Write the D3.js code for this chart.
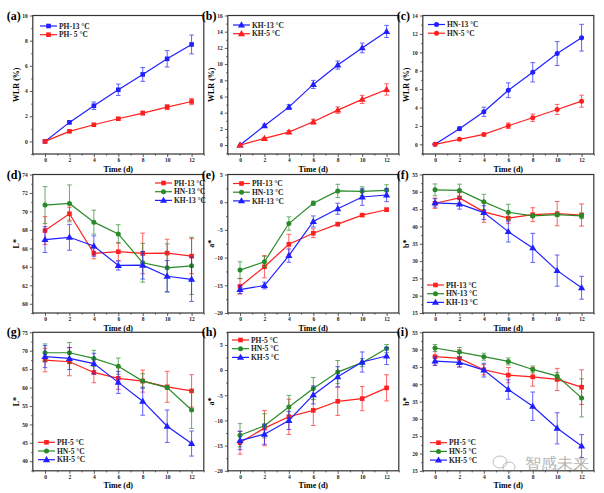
<!DOCTYPE html>
<html><head><meta charset="utf-8">
<script src="https://cdn.jsdelivr.net/npm/d3@7"></script>
<style>
body{margin:0;background:#fff;}
text{font-family:"Liberation Serif","Times New Roman",serif;}
</style></head>
<body><svg id="c" width="604" height="493"></svg>
<script>
// ---------- DATA ----------
const days = [0, 2, 4, 6, 8, 10, 12];
const xTicks = [0, 2, 4, 6, 8, 10, 12];

// (a) WLR PH
const wlrPH13 = [0, 1.51, 2.83, 4.1, 5.32, 6.56, 7.7];
const wlrPH13Err = [0, 0.1, 0.3, 0.45, 0.55, 0.65, 0.75];
const wlrPH5 = [0, 0.8, 1.32, 1.8, 2.25, 2.72, 3.17];
const wlrPH5Err = [0, 0.05, 0.1, 0.1, 0.15, 0.2, 0.25];
// (b) WLR KH
const wlrKH13 = [0, 2.39, 4.69, 7.49, 9.88, 12.0, 14.03];
const wlrKH13Err = [0, 0.2, 0.3, 0.5, 0.5, 0.6, 0.75];
const wlrKH5 = [0, 0.82, 1.6, 2.88, 4.32, 5.64, 6.87];
const wlrKH5Err = [0, 0.1, 0.2, 0.3, 0.4, 0.5, 0.7];
// (c) WLR HN
const wlrHN13 = [0, 1.7, 3.54, 5.88, 7.83, 9.86, 11.59];
const wlrHN13Err = [0, 0.2, 0.5, 0.8, 1.05, 1.3, 1.45];
const wlrHN5 = [0, 0.54, 1.08, 2.02, 2.89, 3.79, 4.69];
const wlrHN5Err = [0, 0.1, 0.15, 0.3, 0.4, 0.55, 0.65];
// (d) L* 13 °C
const L13PH = [67.93, 69.75, 65.47, 65.64, 65.45, 65.49, 65.16];
const L13PHErr = [1.5, 0.7, 0.6, 1.0, 2.2, 1.5, 1.9];
const L13HN = [70.69, 70.87, 68.84, 67.56, 64.44, 63.89, 64.11];
const L13HNErr = [2.0, 2.0, 1.3, 1.0, 2.1, 2.6, 3.1];
const L13KH = [66.95, 67.2, 66.25, 64.15, 64.18, 62.98, 62.65];
const L13KHErr = [1.4, 1.4, 1.1, 0.5, 1.5, 1.7, 2.4];
// (e) a* 13 °C
const a13PH = [-15.2, -11.65, -7.6, -5.6, -3.96, -2.33, -1.36];
const a13PHErr = [1.4, 2.0, 1.8, 0.8, 0.3, 0.2, 0.3];
const a13HN = [-12.26, -10.75, -3.85, -0.2, 2.03, 1.97, 2.15];
const a13HNErr = [1.5, 1.0, 1.2, 0.4, 1.2, 0.8, 1.0];
const a13KH = [-15.77, -15.04, -9.65, -3.48, -1.18, 0.94, 1.3];
const a13KHErr = [0.7, 0.6, 1.2, 1.0, 1.0, 1.5, 1.2];
// (f) b* 13 °C
const b13PH = [46.7, 48.25, 44.2, 42.4, 43.4, 43.7, 43.3];
const b13PHErr = [1.5, 1.5, 3.0, 1.5, 2.0, 3.5, 3.2];
const b13HN = [50.57, 50.4, 47.1, 44.1, 43.05, 43.4, 43.05];
const b13HNErr = [1.7, 1.8, 2.2, 2.3, 0.5, 0.5, 0.8];
const b13KH = [46.8, 46.5, 44.0, 38.5, 33.8, 27.24, 22.3];
const b13KHErr = [1.2, 1.5, 2.0, 3.0, 4.2, 4.5, 3.3];
// (g) L* 5 °C
const L5PH = [67.47, 67.0, 64.1, 62.5, 61.76, 60.2, 59.1];
const L5PHErr = [3.2, 3.8, 2.8, 3.0, 3.0, 4.2, 4.4];
const L5HN = [69.45, 69.45, 67.9, 65.8, 61.76, 60.0, 53.9];
const L5HNErr = [2.4, 2.8, 2.2, 2.2, 2.0, 0.5, 5.0];
const L5KH = [68.4, 67.9, 66.5, 61.4, 56.3, 49.5, 44.8];
const L5KHErr = [3.0, 3.0, 2.8, 3.0, 3.8, 4.4, 3.4];
// (h) a* 5 °C
const a5PH = [-14.4, -11.53, -9.27, -8.0, -6.2, -5.67, -3.53];
const a5PHErr = [2.3, 3.5, 3.5, 3.0, 2.8, 2.4, 2.6];
const a5HN = [-12.93, -11.07, -7.33, -3.67, -0.4, 1.47, 4.27];
const a5HNErr = [2.3, 2.4, 2.3, 2.2, 2.3, 0.8, 0.8];
const a5KH = [-14.0, -12.73, -10.0, -4.93, -1.33, 1.6, 2.8];
const a5KHErr = [1.8, 2.0, 1.8, 1.8, 2.0, 2.0, 1.7];
// (i) b* 5 °C
const b5PH = [47.95, 47.46, 44.18, 42.63, 42.15, 41.38, 39.15];
const b5PHErr = [2.5, 2.5, 1.5, 2.2, 2.7, 3.2, 5.0];
const b5HN = [50.46, 49.3, 47.95, 46.6, 44.27, 42.34, 36.06];
const b5HNErr = [1.0, 1.3, 1.0, 1.0, 1.0, 1.0, 5.5];
const b5KH = [46.7, 46.3, 44.08, 38.48, 33.65, 27.27, 22.15];
const b5KHErr = [1.2, 1.3, 2.0, 2.8, 4.1, 4.5, 3.3];

const ticksWLR10 = [0, 2, 4, 6, 8, 10];
const ticksWLR16 = [0, 2, 4, 6, 8, 10, 12, 14, 16];
const ticksWLR14 = [0, 2, 4, 6, 8, 10, 12, 14];
const ticksL13 = [60, 62, 64, 66, 68, 70, 72, 74];
const ticksA = [-20, -15, -10, -5, 0, 5];
const ticksB = [15, 20, 25, 30, 35, 40, 45, 50, 55];
const ticksL5 = [40, 45, 50, 55, 60, 65, 70, 75];

// ---------- STYLE ----------
const RED = "#ff1f1f", BLUE = "#1f1fff", GREEN = "#2a8a2a";
const colLeft = [32.8, 227.8, 422.8];
const rowTop = [15.5, 174.5, 332.3];
const PW = 171, PH = 138.5;

function S(name, values, errs, color, shape) { return {name, values, errs, color, shape}; }

const panels = [
  {tag: "(a)", col: 0, row: 0, ylab: "WLR (%)", dom: [-1, 10], ticks: ticksWLR10, minor: 1,
   leg: {x: 40, y: 26},
   series: [S("PH-13 °C", wlrPH13, wlrPH13Err, BLUE, "sq"), S("PH- 5 °C", wlrPH5, wlrPH5Err, RED, "sq")]},
  {tag: "(b)", col: 1, row: 0, ylab: "WLR (%)", dom: [-1.1, 16], ticks: ticksWLR16, minor: 1,
   leg: {x: 233, y: 25},
   series: [S("KH-13 °C", wlrKH13, wlrKH13Err, BLUE, "tri"), S("KH-5 °C", wlrKH5, wlrKH5Err, RED, "tri")]},
  {tag: "(c)", col: 2, row: 0, ylab: "WLR (%)", dom: [-1.05, 14], ticks: ticksWLR14, minor: 1,
   leg: {x: 428, y: 24.5},
   series: [S("HN-13 °C", wlrHN13, wlrHN13Err, BLUE, "ci"), S("HN-5 °C", wlrHN5, wlrHN5Err, RED, "ci")]},
  {tag: "(d)", col: 0, row: 1, ylab: "L*", dom: [59, 74], ticks: ticksL13, minor: 1,
   leg: {x: 155, y: 183},
   series: [S("PH-13 °C", L13PH, L13PHErr, RED, "sq"), S("HN-13 °C", L13HN, L13HNErr, GREEN, "ci"), S("KH-13 °C", L13KH, L13KHErr, BLUE, "tri")]},
  {tag: "(e)", col: 1, row: 1, ylab: "a*", dom: [-20, 5], ticks: ticksA, minor: 2.5,
   leg: {x: 233, y: 183.5},
   series: [S("PH-13 °C", a13PH, a13PHErr, RED, "sq"), S("HN-13 °C", a13HN, a13HNErr, GREEN, "ci"), S("KH-13 °C", a13KH, a13KHErr, BLUE, "tri")]},
  {tag: "(f)", col: 2, row: 1, ylab: "b*", dom: [15, 55], ticks: ticksB, minor: 2.5,
   leg: {x: 427, y: 285},
   series: [S("PH-13 °C", b13PH, b13PHErr, RED, "sq"), S("HN-13 °C", b13HN, b13HNErr, GREEN, "ci"), S("KH-13 °C", b13KH, b13KHErr, BLUE, "tri")]},
  {tag: "(g)", col: 0, row: 2, ylab: "L*", dom: [37.4, 75], ticks: ticksL5, minor: 2.5,
   leg: {x: 38, y: 442.3},
   series: [S("PH-5 °C", L5PH, L5PHErr, RED, "sq"), S("HN-5 °C", L5HN, L5HNErr, GREEN, "ci"), S("KH-5 °C", L5KH, L5KHErr, BLUE, "tri")]},
  {tag: "(h)", col: 1, row: 2, ylab: "a*", dom: [-20, 7.5], ticks: ticksA, minor: 2.5,
   leg: {x: 232, y: 340},
   series: [S("PH-5 °C", a5PH, a5PHErr, RED, "sq"), S("HN-5 °C", a5HN, a5HNErr, GREEN, "ci"), S("KH-5 °C", a5KH, a5KHErr, BLUE, "tri")]},
  {tag: "(i)", col: 2, row: 2, ylab: "b*", dom: [15, 55], ticks: ticksB, minor: 2.5,
   leg: {x: 430, y: 442.7},
   series: [S("PH-5 °C", b5PH, b5PHErr, RED, "sq"), S("HN-5 °C", b5HN, b5HNErr, GREEN, "ci"), S("KH-5 °C", b5KH, b5KHErr, BLUE, "tri")]},
];

const svg = d3.select("#c");

function marker(g, shape, x, y, color) {
  if (shape === "sq") {
    g.append("rect").attr("x", x - 2.3).attr("y", y - 2.3).attr("width", 4.6).attr("height", 4.6).attr("fill", color);
  } else if (shape === "ci") {
    g.append("circle").attr("cx", x).attr("cy", y).attr("r", 2.5).attr("fill", color);
  } else {
    g.append("path").attr("d", d3.symbol(d3.symbolTriangle, 22)()).attr("transform", `translate(${x},${y + 0.4})`).attr("fill", color);
  }
}

panels.forEach(p => {
  const L = colLeft[p.col], T = rowTop[p.row];
  const x = d3.scaleLinear().domain([-1, 13]).range([L, L + PW]);
  const y = d3.scaleLinear().domain(p.dom).range([T + PH, T]);
  const g = svg.append("g");

  const minors = d3.range(Math.ceil(p.dom[0] / p.minor) * p.minor, p.dom[1] + 1e-9, p.minor)
    .filter(v => !p.ticks.some(t => Math.abs(t - v) < 1e-9));
  const yAxis = d3.axisLeft(y).tickValues(p.ticks).tickSize(3).tickPadding(2).tickFormat(d3.format("d"));
  g.append("g").attr("transform", `translate(${L},0)`).call(yAxis);
  const yMinor = d3.axisLeft(y).tickValues(minors).tickSize(1.6).tickFormat("");
  g.append("g").attr("transform", `translate(${L},0)`).call(yMinor).select(".domain").remove();

  const xAxis = d3.axisBottom(x).tickValues(xTicks).tickSize(3).tickPadding(1.5).tickFormat(d3.format("d"));
  g.append("g").attr("transform", `translate(0,${T + PH})`).call(xAxis);
  const xMinor = d3.axisBottom(x).tickValues([-1, 1, 3, 5, 7, 9, 11, 13]).tickSize(1.6).tickFormat("");
  g.append("g").attr("transform", `translate(0,${T + PH})`).call(xMinor).select(".domain").remove();

  g.selectAll(".tick text").attr("font-size", 5.5).attr("font-weight", "bold").attr("fill", "#222");
  g.selectAll(".tick line").attr("stroke", "#333").attr("stroke-width", 0.8);
  g.selectAll(".domain").remove();

  g.append("rect").attr("x", L).attr("y", T).attr("width", PW).attr("height", PH)
    .attr("fill", "none").attr("stroke", "#333").attr("stroke-width", 1.2);

  g.append("text").attr("x", L + PW / 2).attr("y", T + PH + 17.5).attr("text-anchor", "middle")
    .attr("font-size", 8).attr("font-weight", "bold").text("Time (d)");
  g.append("text").attr("transform", `translate(${L - 14},${T + PH / 2}) rotate(-90)`)
    .attr("text-anchor", "middle").attr("font-size", 8).attr("font-weight", "bold").text(p.ylab);
  g.append("text").attr("x", L - 26).attr("y", T + 4).attr("font-size", 12).attr("font-weight", "bold").text(p.tag);

  p.series.forEach(s => {
    const pts = days.map((d, i) => ({d, v: s.values[i], e: s.errs[i]}));
    const eb = g.append("g").attr("stroke", s.color).attr("stroke-width", 1).attr("opacity", 0.7);
    pts.forEach(pt => {
      if (pt.e <= 0) return;
      const cx = x(pt.d), y1 = y(pt.v + pt.e), y2 = y(pt.v - pt.e);
      eb.append("line").attr("x1", cx).attr("x2", cx).attr("y1", y1).attr("y2", y2);
      eb.append("line").attr("x1", cx - 2.3).attr("x2", cx + 2.3).attr("y1", y1).attr("y2", y1);
      eb.append("line").attr("x1", cx - 2.3).attr("x2", cx + 2.3).attr("y1", y2).attr("y2", y2);
    });
    g.append("path").datum(pts).attr("fill", "none").attr("stroke", s.color).attr("stroke-width", 1.2)
      .attr("d", d3.line().x(q => x(q.d)).y(q => y(q.v)));
    pts.forEach(pt => marker(g, s.shape, x(pt.d), y(pt.v), s.color));
  });

  p.series.forEach((s, i) => {
    const ly = p.leg.y + i * 8.7;
    g.append("line").attr("x1", p.leg.x).attr("x2", p.leg.x + 17).attr("y1", ly).attr("y2", ly)
      .attr("stroke", s.color).attr("stroke-width", 1.2);
    marker(g, s.shape, p.leg.x + 8.5, ly, s.color);
    g.append("text").attr("x", p.leg.x + 19).attr("y", ly + 2.6).attr("font-size", 7.5)
      .attr("font-weight", "bold").attr("fill", "#222").text(s.name);
  });
});

// watermark
const wm = svg.append("g").attr("opacity", 0.55);
wm.append("ellipse").attr("cx", 500).attr("cy", 462).attr("rx", 7).attr("ry", 6).attr("fill", "none").attr("stroke", "#888").attr("stroke-width", 1);
wm.append("ellipse").attr("cx", 509).attr("cy", 467).attr("rx", 6).attr("ry", 5).attr("fill", "none").attr("stroke", "#888").attr("stroke-width", 1);
wm.append("text").attr("x", 525).attr("y", 469).attr("font-size", 16)
  .attr("font-family", "'Noto Sans CJK SC', sans-serif").attr("fill", "#777").text("智感未来");
</script></body></html>
